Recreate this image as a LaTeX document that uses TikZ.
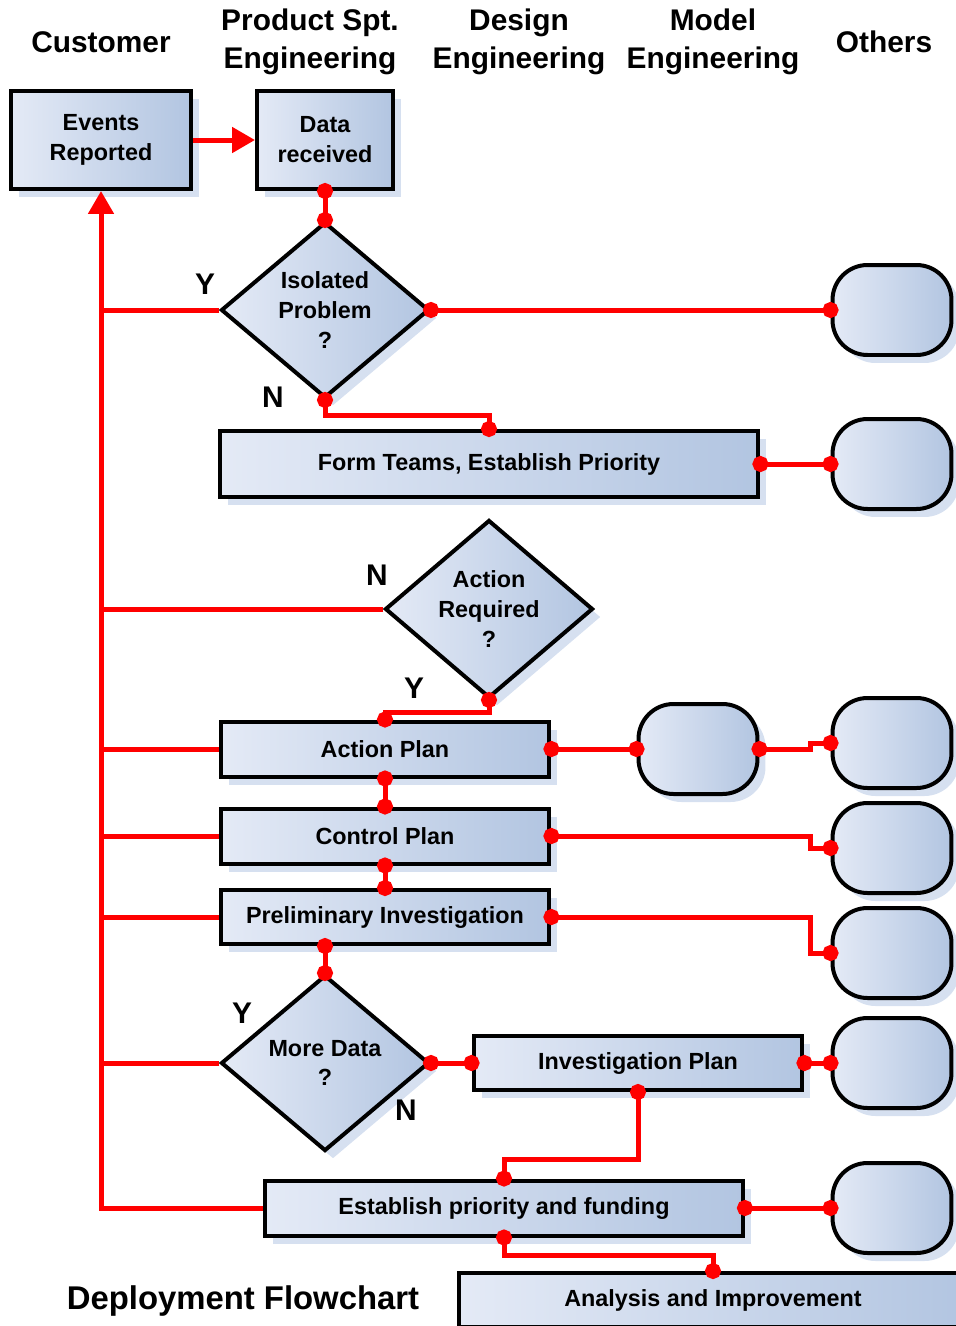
\documentclass[tikz,border=0pt]{standalone}
\usepackage{fontspec}
\setmainfont{Liberation Sans}
\usepackage{tikz}
\usetikzlibrary{shapes.geometric,arrows.meta,shadows}
\definecolor{boxlight}{RGB}{228,234,246}
\definecolor{boxdark}{RGB}{178,197,225}
\definecolor{shadowblue}{RGB}{214,224,240}
\tikzstyle{card} = [draw=black, line width=0.08cm, left color=boxlight, right color=boxdark,
drop shadow={shadow xshift=0.16cm, shadow yshift=-0.16cm, fill=shadowblue, opacity=1}]
\tikzstyle{process} = [card, rectangle, inner sep=0pt, text centered, align=center,
font=\fontsize{13.3}{17}\selectfont\bfseries]
\tikzstyle{decision} = [card, diamond, inner sep=0pt, minimum width=4.16cm, minimum height=3.52cm,
align=center, font=\fontsize{13.3}{17}\selectfont\bfseries]
\tikzstyle{terminal} = [card, rectangle, rounded corners=0.7cm, minimum width=2.38cm, minimum height=1.8cm]
\tikzstyle{head} = [align=center, font=\fontsize{17}{22}\selectfont\bfseries]
\tikzstyle{tag} = [font=\fontsize{17}{20}\selectfont\bfseries]
\tikzstyle{link} = [draw=red, line width=0.1cm]
\tikzstyle{dots} = [link, {Circle[length=0.32cm]}-{Circle[length=0.32cm]}, shorten <=-0.16cm, shorten >=-0.16cm]
\tikzstyle{arrow} = [link, -{Triangle[length=0.46cm,width=0.5cm]}]

\begin{document}
\begin{tikzpicture}[x=0.02cm, y=-0.02cm]
                 \path [use as bounding box, clip] (0,0) rectangle (956,1326);
                 % lane headings
                 \node (hcu) [head] at (101,42) {Customer};
                 \node (hps) [head] at (310,42) {Product Spt.\\Engineering};
                 \node (hde) [head] at (519,42) {Design\\Engineering};
                 \node (hmo) [head] at (713,42) {Model\\Engineering};
                 \node (hot) [head] at (884,42) {Others};
                 % main flow
                 \node (ev) [process, minimum width=3.6cm, minimum height=1.96cm] at (101,140) {Events\\Reported};
                 \node (dr) [process, minimum width=2.72cm, minimum height=1.96cm] at (325,140) {Data\\received};
                 \node (iso) [decision] at (325,310) {Isolated\\Problem\\?};
                 \node (ft) [process, minimum width=10.78cm, minimum height=1.32cm] at (489,464) {Form Teams, Establish Priority};
                 \node (ar) [decision] at (489,609) {Action\\Required\\?};
                 \node (ap) [process, minimum width=6.58cm, minimum height=1.1cm] at (385,749) {Action Plan};
                 \node (cp) [process, minimum width=6.58cm, minimum height=1.1cm] at (385,836) {Control Plan};
                 \node (pi) [process, minimum width=6.58cm, minimum height=1.08cm] at (385,917) {Preliminary Investigation};
                 \node (md) [decision] at (325,1063) {More Data\\?};
                 \node (ip) [process, minimum width=6.58cm, minimum height=1.08cm] at (638,1063) {Investigation Plan};
                 \node (est) [process, minimum width=9.56cm, minimum height=1.1cm] at (504,1208) {Establish priority and funding};
                 \node (ai) [process, minimum width=10.16cm, minimum height=1.08cm] at (713,1300) {Analysis and Improvement};
                 % other lanes
                 \node (t1) [terminal] at (892,310) {};
                 \node (t2) [terminal] at (892,464) {};
                 \node (mt) [terminal] at (698,749) {};
                 \node (t3) [terminal] at (892,743) {};
                 \node (t4) [terminal] at (892,848) {};
                 \node (t5) [terminal] at (892,953) {};
                 \node (t6) [terminal] at (892,1063) {};
                 \node (t7) [terminal] at (892,1208) {};
                 \coordinate (jog) at (810,0);
                 % answers
                 \node (y1) [tag] at (205,284) {Y};
                 \node (n1) [tag] at (273,397) {N};
                 \node (n2) [tag] at (377,575) {N};
                 \node (y2) [tag] at (414,688) {Y};
                 \node (y3) [tag] at (242,1013) {Y};
                 \node (n3) [tag] at (406,1110) {N};
                 \node (title) [head, font=\fontsize{18.7}{23}\selectfont\bfseries] at (243,1301) {Deployment Flowchart};
                 % connectors
                 \draw [arrow] (ev) -- (dr);
                 \draw [dots] (dr) -- (iso);
                 \draw [link] (iso.west) -- (iso.west -| ev.south);
                 \draw [dots] (iso.east) -- (t1.west);
                 \draw [dots] (iso.south) -- ++(0,16) -| (ft.north);
                 \draw [dots] (ft.east) -- (t2.west);
                 \draw [link] (ar.west) -- (ar.west -| ev.south);
                 \draw [dots] (ar.south) -- ++(0,13) -| (ap.north);
                 \draw [link] (ap.west) -- (ap.west -| ev.south);
                 \draw [dots] (ap.east) -- (mt.west);
                 \draw [dots] (mt.east) -- (mt.east -| jog) |- (t3.west);
                 \draw [dots] (ap) -- (cp);
                 \draw [link] (cp.west) -- (cp.west -| ev.south);
                 \draw [dots] (cp.east) -- (cp.east -| jog) |- (t4.west);
                 \draw [dots] (cp) -- (pi);
                 \draw [link] (pi.west) -- (pi.west -| ev.south);
                 \draw [dots] (pi.east) -- (pi.east -| jog) |- (t5.west);
                 \draw [dots] (pi.south -| md.north) -- (md.north);
                 \draw [link] (md.west) -- (md.west -| ev.south);
                 \draw [dots] (md.east) -- (ip.west);
                 \draw [dots] (ip.east) -- (t6.west);
                 \draw [dots] (ip.south) -- ++(0,67) -| (est.north);
                 \draw [dots] (est.east) -- (t7.west);
                 \draw [arrow] (est.west) -| (ev.south);
                 \draw [dots] (est.south) -- ++(0,18) -| (ai.north);
\end{tikzpicture}
\end{document}
